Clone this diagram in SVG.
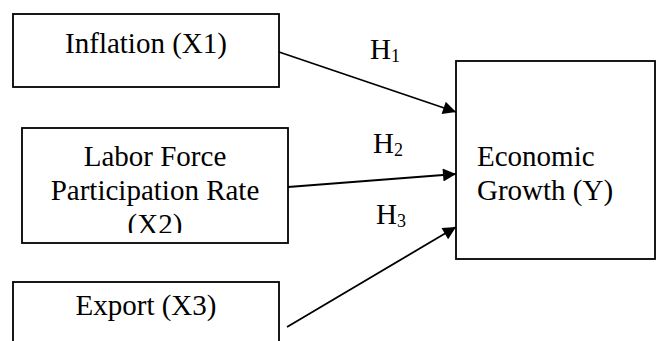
<svg xmlns="http://www.w3.org/2000/svg" width="656" height="341" viewBox="0 0 656 341">
<defs>
<style>
.box{fill:#fff;stroke:#000;stroke-width:1.8}
.t{font-family:"Liberation Serif","Times New Roman",serif;font-size:29px;fill:#000}
.s{font-size:18px}
.c{stroke:#000;stroke-width:1.8;fill:none}
</style>
<marker id="ah" viewBox="0 0 10 10" refX="10" refY="5" markerWidth="17" markerHeight="13" markerUnits="userSpaceOnUse" orient="auto">
<path d="M0,0 L10,5 L0,10 z" fill="#000"/>
</marker>
<clipPath id="cb2"><rect x="22" y="128" width="266" height="105"/></clipPath>
</defs>
<rect width="656" height="341" fill="#fff"/>
<g id="connectors">
<line class="c" x1="279" y1="52" x2="456" y2="112" marker-end="url(#ah)"/>
<line class="c" x1="288" y1="187" x2="456" y2="174" marker-end="url(#ah)"/>
<line class="c" x1="287" y1="327" x2="456" y2="227" marker-end="url(#ah)"/>
</g>
<g id="x1">
<rect class="box" x="13" y="14" width="266" height="73"/>
<text class="t" x="146" y="53" text-anchor="middle">Inflation (X1)</text>
</g>
<g id="x2">
<rect class="box" x="22" y="128" width="266" height="115"/>
<g clip-path="url(#cb2)">
<text class="t" text-anchor="middle"><tspan x="155" y="166">Labor Force</tspan><tspan x="155" y="200">Participation Rate</tspan><tspan x="155" y="234">(X2)</tspan></text>
</g>
</g>
<g id="x3">
<rect class="box" x="13" y="282" width="266" height="80"/>
<text class="t" x="146" y="315" text-anchor="middle">Export (X3)</text>
</g>
<g id="y">
<rect class="box" x="456" y="61" width="199" height="198"/>
<text class="t"><tspan x="477" y="166">Economic</tspan><tspan x="477" y="200">Growth (Y)</tspan></text>
</g>
<g id="labels">
<text class="t" x="370" y="59">H<tspan class="s" dy="2.5">1</tspan></text>
<text class="t" x="373" y="153">H<tspan class="s" dy="2.5">2</tspan></text>
<text class="t" x="376" y="224">H<tspan class="s" dy="2.5">3</tspan></text>
</g>
</svg>
